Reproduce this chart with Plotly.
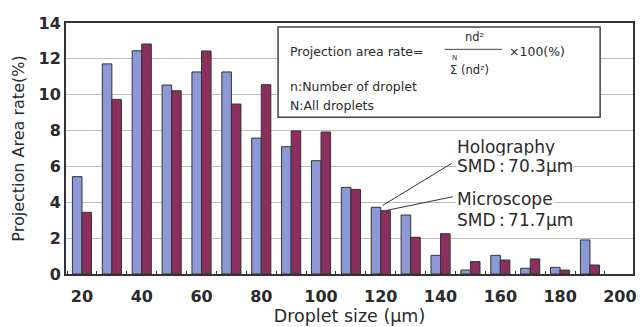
import plotly.graph_objects as go

# Droplet size classes (µm) and projection area rate (%) per class
sizes = [20, 30, 40, 50, 60, 70, 80, 90, 100, 110, 120, 130, 140, 150, 160, 170, 180, 190]
holography = [5.43, 11.72, 12.45, 10.54, 11.27, 11.27, 7.58, 7.10, 6.32, 4.83,
              3.72, 3.29, 1.04, 0.22, 1.04, 0.32, 0.37, 1.90]
microscope = [3.44, 9.74, 12.83, 10.22, 12.44, 9.48, 10.56, 7.98, 7.92, 4.72,
              3.53, 2.05, 2.25, 0.69, 0.78, 0.84, 0.22, 0.50]
x_tick_vals = [20, 40, 60, 80, 100, 120, 140, 160, 180, 200]
y_tick_vals = [0, 2, 4, 6, 8, 10, 12, 14]

FONT = "DejaVu Sans"
INK = "#2a2a2a"
BLUE = "#8c99d6"
MAROON = "#8c2e5e"

fig = go.Figure()
fig.add_trace(go.Bar(x=sizes, y=holography, name="Holography",
                     marker=dict(color=BLUE, line=dict(color="#333", width=1))))
fig.add_trace(go.Bar(x=sizes, y=microscope, name="Microscope",
                     marker=dict(color=MAROON, line=dict(color="#333", width=1))))

fig.update_layout(
    width=644, height=327,
    margin=dict(l=66, r=11, t=23, b=53),
    paper_bgcolor="white", plot_bgcolor="white",
    barmode="group", bargap=0.36, bargroupgap=0,
    showlegend=False,
    font=dict(family=FONT, color=INK),
)

fig.update_xaxes(
    range=[14.65, 204.4], automargin=False,
    tickmode="array", tickvals=x_tick_vals,
    tickfont=dict(family=FONT, size=16, weight="bold", color=INK),
    ticks="", ticklabelstandoff=7,
    minor=dict(ticks="inside", tick0=25, dtick=10, ticklen=3, tickcolor="#333", showgrid=False),
    showline=True, linecolor="#333", linewidth=2, mirror=True,
    showgrid=False, zeroline=False,
    title=dict(text="Droplet size (µm)", font=dict(family=FONT, size=17.5, color=INK), standoff=3),
)
fig.update_yaxes(
    range=[0, 14], automargin=False,
    tickmode="array", tickvals=y_tick_vals,
    tickfont=dict(family=FONT, size=16, weight="bold", color=INK),
    ticks="",
    showline=True, linecolor="#333", linewidth=2, mirror=True,
    showgrid=True, gridcolor="#bdbdbd", gridwidth=1, zeroline=False,
    title=dict(text="Projection Area rate(%)", font=dict(family=FONT, size=16, color=INK), standoff=10),
)

# Formula box
fig.add_shape(type="rect", xref="paper", yref="paper", x0=0.374, x1=0.942, y0=0.625, y1=0.984,
              line=dict(color="#444", width=1.5), fillcolor="white", layer="above")
fig.add_shape(type="line", xref="paper", yref="paper", x0=0.668, x1=0.769, y0=0.895, y1=0.895,
              line=dict(color="#444", width=1), layer="above")

box_texts = [
    ("Projection area rate=", 0.3915, 0.8857, 12.5),
    ("nd²", 0.700, 0.9454, 11.5),
    ("N", 0.678, 0.8618, 7),
    ("Σ (nd²)", 0.6735, 0.8127, 11.5),
    ("×100(%)", 0.7778, 0.8857, 12.5),
    ("n:Number of droplet", 0.3915, 0.7462, 12.5),
    ("N:All droplets", 0.3915, 0.6733, 12.5),
]
for text, xp, yp, size in box_texts:
    fig.add_annotation(text=text, xref="paper", yref="paper", x=xp, y=yp,
                       xanchor="left", yanchor="middle", showarrow=False,
                       font=dict(family=FONT, size=size, color=INK))

# SMD labels with leader lines to the 120 µm bars
i120 = sizes.index(120)
label_x = 145.1
label_rows = [
    ("Holography", 7.11),
    ("SMD\u2009:\u200970.3µm", 6.0),
    ("Microscope", 4.18),
    ("SMD\u2009:\u200971.7µm", 3.01),
]
for text, yv in label_rows:
    fig.add_annotation(text=text, x=label_x, y=yv, xanchor="left", yanchor="middle",
                       showarrow=False, bgcolor="white", borderpad=0,
                       font=dict(family=FONT, size=17, color=INK))

fig.add_shape(type="line", x0=label_x - 1.4, y0=6.17, x1=sizes[i120] + 0.6,
              y1=holography[i120] + 0.1, line=dict(color="#333", width=1), layer="above")
fig.add_shape(type="line", x0=label_x - 1.0, y0=4.31, x1=sizes[i120] + 2.0,
              y1=microscope[i120] + 0.02, line=dict(color="#333", width=1), layer="above")

fig.write_html("out.html")
